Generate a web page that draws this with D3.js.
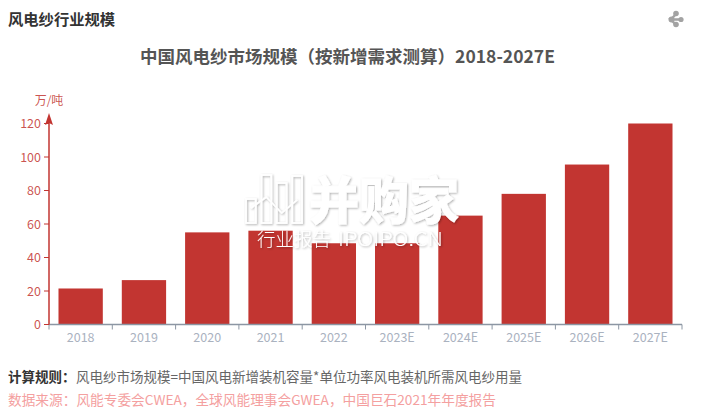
<!DOCTYPE html>
<html><head><meta charset="utf-8">
<script src="https://cdn.jsdelivr.net/npm/d3@7/dist/d3.min.js"></script>
<style>html,body{margin:0;padding:0;background:#fff;overflow:hidden}svg{display:block}text{font-family:"Noto Sans CJK SC","Noto Sans",sans-serif}</style>
</head><body><div id="c"></div>
<script>
const categories=["2018","2019","2020","2021","2022","2023E","2024E","2025E","2026E","2027E"];
const values=[21.5,26.5,55,56,48.5,48.5,65,78,95.5,120];
const yTicks=[0,20,40,60,80,100,120];
const chartTitle="中国风电纱市场规模（按新增需求测算）2018-2027E";
const pageTitle="风电纱行业规模";
const unitLabel="万/吨";
const ruleLabel="计算规则：";
const ruleText="风电纱市场规模=中国风电新增装机容量*单位功率风电装机所需风电纱用量";
const sourceText="数据来源：风能专委会CWEA，全球风能理事会GWEA，中国巨石2021年年度报告";
const wmMain="并购家", wmSub1="行业报告", wmSub2="IPOIPO.CN";
const wmBars=[24,48,40,47];
const wmLine=[15,26,10,23];

const W=703,H=418;
const svg=d3.select("#c").append("svg").attr("width",W).attr("height",H);
const defs=svg.append("defs");
const f=defs.append("filter").attr("id","sh").attr("x","-10%").attr("y","-10%").attr("width","120%").attr("height","120%");
f.append("feDropShadow").attr("dx",1).attr("dy",1).attr("stdDeviation",1.2).attr("flood-color","#000").attr("flood-opacity",0.32);

const x=d3.scaleBand().domain(categories).range([49,682]).paddingInner(0.3).paddingOuter(0.15);
const xEdge=d3.scaleBand().domain(categories).range([49,682]);
const y=d3.scaleLinear().domain([0,120]).range([324.5,123.5]);
const red="#c23531",grey="#8c96a3",lab="#aab2bf";

svg.append("text").attr("x",8).attr("y",25).attr("font-size",15.3).attr("font-weight",700).attr("fill","#333").text(pageTitle);
svg.append("text").attr("x",347.5).attr("y",63).attr("text-anchor","middle").attr("font-size",17.5).attr("font-weight",700).attr("fill","#555").text(chartTitle);

// share icon
const ic=svg.append("g").attr("fill","#a3a3a3");
[[676,13.5,2.8],[676,24.5,2.8],[671.5,19.5,3],[681,19.5,2.6]].forEach(p=>ic.append("circle").attr("cx",p[0]).attr("cy",p[1]).attr("r",p[2]));
ic.append("path").attr("fill","none").attr("stroke","#a3a3a3").attr("stroke-width",2.5).attr("d",d3.line()([[676,14],[671,19.5],[676,25],[671,19.5],[681,19.5]]));

// bars
svg.append("g").selectAll("rect").data(values).join("rect")
 .attr("x",(d,i)=>x(categories[i])).attr("width",x.bandwidth())
 .attr("y",d=>y(d)).attr("height",d=>y(0)-y(d)).attr("fill",red);

// axes
const gx=svg.append("g").attr("transform",`translate(0,${y(0)})`);
gx.append("line").attr("x1",49).attr("x2",682).attr("stroke",grey).attr("stroke-width",1.5);
gx.selectAll("line.t").data(categories.concat("_end")).join("line").attr("class","t")
 .attr("x1",(d,i)=>49+i*xEdge.step()).attr("x2",(d,i)=>49+i*xEdge.step()).attr("y1",0).attr("y2",5).attr("stroke",grey);
gx.selectAll("text").data(categories).join("text")
 .attr("x",d=>xEdge(d)+xEdge.bandwidth()/2).attr("y",17).attr("text-anchor","middle")
 .attr("font-size",12.5).attr("fill",lab).text(d=>d);

const gy=svg.append("g");
gy.append("line").attr("x1",49).attr("x2",49).attr("y1",y(0)).attr("y2",118).attr("stroke",red).attr("stroke-width",1.5);
gy.append("path").attr("fill",red).attr("d","M49,113 L53,125 L49,123 L45,125 Z");
gy.selectAll("line.t").data(yTicks).join("line").attr("class","t").attr("x1",44).attr("x2",49)
 .attr("y1",d=>y(d)).attr("y2",d=>y(d)).attr("stroke",red);
gy.selectAll("text").data(yTicks).join("text").attr("x",41).attr("y",d=>y(d)+4.5).attr("text-anchor","end")
 .attr("font-size",12.5).attr("fill",red).attr("fill-opacity",.85).text(d=>d);
svg.append("text").attr("x",49).attr("y",105).attr("text-anchor","middle").attr("font-size",12).attr("fill",red).attr("fill-opacity",.85).text(unitLabel);

// watermark
const wm=svg.append("g").attr("filter","url(#sh)");
const wx=d3.scaleBand().domain(d3.range(wmBars.length)).range([246,302]).paddingInner(0.36);
const wy=d3.scaleLinear().domain([0,48]).range([223,175]);
wm.selectAll("rect").data(wmBars).join("rect").attr("x",(d,i)=>wx(i)).attr("width",wx.bandwidth())
 .attr("y",d=>wy(d)).attr("height",d=>wy(0)-wy(d)).attr("fill","none").attr("stroke","#fff").attr("stroke-width",1.8);
const wl=d3.line().x((d,i)=>wx(i)+wx.bandwidth()/2).y(d=>wy(d));
wm.append("path").attr("d",wl(wmLine)).attr("fill","none").attr("stroke","#fff").attr("stroke-width",1.6);
wm.append("text").attr("x",309).attr("y",219).attr("font-size",50).attr("font-weight",700).attr("fill","#fff").attr("stroke","#fff").attr("stroke-width",1.2).text(wmMain);
wm.append("text").attr("x",257).attr("y",246).attr("font-size",18.5).attr("font-weight",300).attr("fill","#fff").text(wmSub1);
wm.append("text").attr("x",338).attr("y",246).attr("font-size",19).attr("font-weight",300).attr("fill","#fff").attr("textLength",105).attr("lengthAdjust","spacingAndGlyphs").text(wmSub2);

// footer
svg.append("text").attr("x",8).attr("y",382).attr("font-size",13.5).attr("font-weight",700).attr("fill","#333").text(ruleLabel);
svg.append("text").attr("x",76).attr("y",382).attr("font-size",13.5).attr("fill","#666").attr("textLength",446).text(ruleText);
svg.append("text").attr("x",8).attr("y",405).attr("font-size",13.7).attr("fill","#f4a0a0").attr("textLength",488).text(sourceText);
</script></body></html>
